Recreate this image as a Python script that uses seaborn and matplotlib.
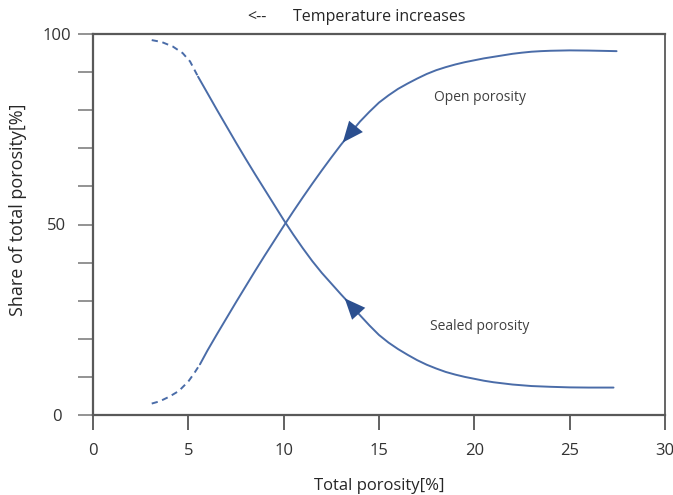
import numpy as np
import pandas as pd
import matplotlib
matplotlib.use("Agg")
import matplotlib.pyplot as plt
import seaborn as sns

# ---- data ----
sealed_dash_x = [3.08, 3.6, 4.19, 4.7, 5.09, 5.51]
sealed_dash_y = [98.4, 97.9, 96.7, 95.0, 92.8, 88.8]
sealed_x = [5.51, 6.0, 6.5, 7.0, 7.5, 8.0, 8.5, 9.0, 9.5, 10.0, 10.5, 11.0, 11.5, 12.0,
            12.5, 13.0, 13.5, 14.0, 14.5, 15.0, 15.5, 16.0, 16.5, 17.0, 17.5, 18.0, 18.5,
            19.0, 19.5, 20.0, 20.5, 21.0, 21.5, 22.0, 22.5, 23.0, 24.0, 25.0, 26.0, 27.3]
sealed_y = [88.8, 84.5, 80.1, 75.8, 71.5, 67.3, 63.2, 59.2, 55.2, 51.2, 47.4, 43.8, 40.4, 37.3,
            34.5, 31.7, 29.0, 26.2, 23.5, 21.0, 19.0, 17.3, 15.8, 14.4, 13.2, 12.2, 11.3,
            10.6, 10.0, 9.5, 9.0, 8.6, 8.3, 8.0, 7.8, 7.6, 7.4, 7.25, 7.2, 7.2]

open_dash_x = [3.08, 3.5, 4.0, 4.5, 5.0, 5.3, 5.61]
open_dash_y = [3.0, 3.6, 4.8, 6.3, 8.8, 10.9, 13.3]
open_x = [5.61, 6.0, 6.5, 7.0, 7.5, 8.0, 8.5, 9.0, 9.5, 10.0, 10.5, 11.0, 11.5, 12.0,
          12.5, 13.0, 13.5, 14.0, 14.5, 15.0, 15.5, 16.0, 16.5, 17.0, 17.5, 18.0, 18.5,
          19.0, 19.5, 20.0, 20.5, 21.0, 21.5, 22.0, 22.5, 23.0, 23.5, 24.0, 25.0, 26.0, 27.46]
open_y = [13.3, 16.9, 21.2, 25.4, 29.6, 33.7, 37.8, 41.8, 45.7, 49.6, 53.4, 57.1, 60.7, 64.2,
          67.6, 70.9, 74.0, 77.0, 79.6, 82.0, 83.9, 85.6, 87.0, 88.3, 89.5, 90.5, 91.3,
          92.0, 92.6, 93.1, 93.6, 94.0, 94.4, 94.8, 95.1, 95.35, 95.5, 95.6, 95.7, 95.65, 95.5]

x_ticks = [0, 5, 10, 15, 20, 25, 30]
y_ticks = [0, 10, 20, 30, 40, 50, 60, 70, 80, 90, 100]
y_tick_labels = ["0", "", "", "", "", "50", "", "", "", "", "100"]

labels = ["Open porosity", "Sealed porosity"]
label_pos_x = [20.3, 20.3]
label_pos_y = [83.4, 23.3]
arrow_tip_x = [13.1, 13.2]
arrow_tail_x = 13.9

title_arrow = "<--"
title_text = "Temperature increases"
x_label = "Total porosity[%]"
y_label = "Share of total porosity[%]"

# ---- style ----
sns.set_theme(style="white")
plt.rcParams["font.family"] = ["Open Sans", "DejaVu Sans"]

line_color = "#4a6ca8"
head_color = "#2b4f8f"
spine_color = "#595959"
tick_color = "#8a8a8a"
text_color = "#404040"

fig = plt.figure(figsize=(6.73, 4.95), dpi=100)
ax = fig.add_axes([93 / 673, 1 - 415 / 495, (665 - 93) / 673, (415 - 34) / 495])

segs = [
    (sealed_dash_x, sealed_dash_y, (0, (3.2, 2.4))),
    (sealed_x, sealed_y, "-"),
    (open_dash_x, open_dash_y, (0, (3.2, 2.4))),
    (open_x, open_y, "-"),
]
for xs, ys, ls in segs:
    df = pd.DataFrame({"x": xs, "y": ys})
    sns.lineplot(data=df, x="x", y="y", ax=ax, color=line_color, lw=1.4,
                 linestyle=ls, estimator=None, sort=False)

# arrowheads along curves
for cx, cy, tip in [(open_x, open_y, arrow_tip_x[0]), (sealed_x, sealed_y, arrow_tip_x[1])]:
    ty = np.interp(tip, cx, cy)
    sy = np.interp(arrow_tail_x, cx, cy)
    ax.annotate("", xy=(tip, ty), xytext=(arrow_tail_x, sy),
                arrowprops=dict(arrowstyle="-|>,head_length=0.75,head_width=0.32",
                                mutation_scale=20, color=head_color, lw=0,
                                shrinkA=0, shrinkB=0))

for t, lx, ly in zip(labels, label_pos_x, label_pos_y):
    ax.text(lx, ly, t, ha="center", va="center", fontsize=10, color=text_color)

ax.set_xlim(0, 30)
ax.set_ylim(0, 100)
ax.set_xticks(x_ticks)
ax.set_xticklabels([str(v) for v in x_ticks])
ax.set_yticks(y_ticks)
ax.set_yticklabels(y_tick_labels)
for lab in ax.get_yticklabels():
    lab.set_horizontalalignment("center")

ax.tick_params(axis="y", direction="out", length=11, width=1.3, color=tick_color,
               pad=15, labelsize=12, labelcolor="#333333", left=True)
ax.tick_params(axis="x", direction="out", length=11, width=1.3, color="#555555",
               pad=9, labelsize=12, labelcolor="#333333", bottom=True)

for s in ax.spines.values():
    s.set_visible(True)
    s.set_color(spine_color)
    s.set_linewidth(1.6)
ax.spines["right"].set_linewidth(1.3)

ax.set_xlabel(x_label, fontsize=12, color="#262626", labelpad=14)
ax.set_ylabel(y_label, fontsize=13, color="#262626", labelpad=8)
ax.yaxis.set_label_coords(-0.116, 0.54)
ax.grid(False)

fig.text(257 / 673, 1 - 17 / 495, title_arrow, ha="center", va="center", fontsize=11.5, color="#262626")
fig.text(293 / 673, 1 - 17 / 495, title_text, ha="left", va="center", fontsize=11.5, color="#262626")

fig.savefig("out.png", dpi=100, facecolor="white")
